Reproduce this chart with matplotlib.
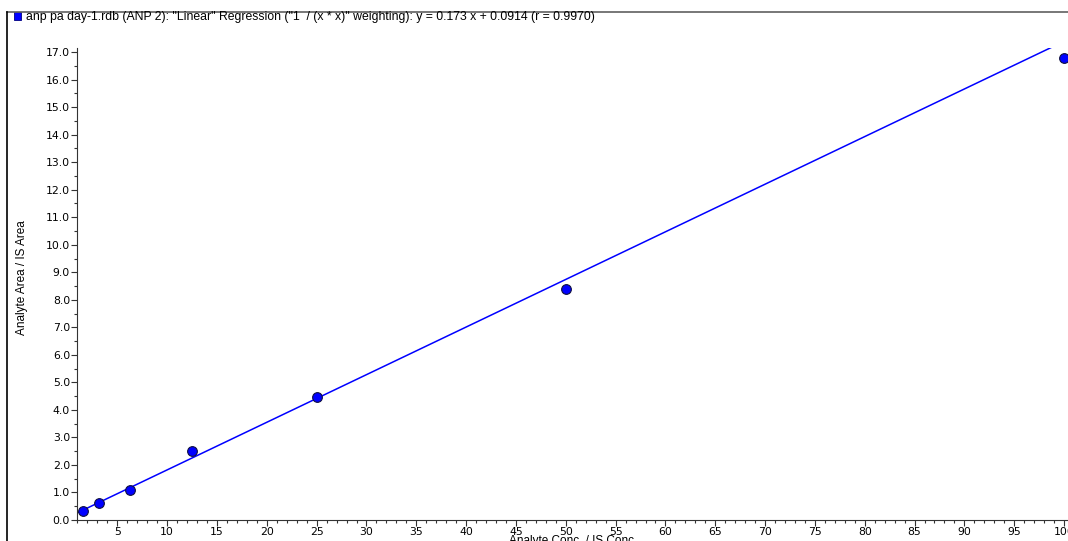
import numpy as np
import matplotlib.pyplot as plt
from matplotlib.lines import Line2D
from matplotlib.patches import Rectangle
from matplotlib.ticker import MultipleLocator, FormatStrFormatter

plt.rcParams['font.family'] = ['Liberation Sans', 'DejaVu Sans']

# calibration standards: analyte/IS concentration ratio vs area ratio
conc = [1.5625, 3.125, 6.25, 12.5, 25, 50, 100]
area_ratio = [0.33, 0.62, 1.09, 2.51, 4.47, 8.39, 16.78]

slope = 0.173
intercept = 0.0914
r_value = 0.9970

W, H = 1068, 541
fig = plt.figure(figsize=(W / 100, H / 100), dpi=100)

# plot area in pixel terms
x0, x1 = 77, 1075
y0, y1 = 520, 48
ax = fig.add_axes([x0 / W, (H - y0) / H, (x1 - x0) / W, (y0 - y1) / H])

fit_x = np.array([0, 105])
ax.plot(fit_x, slope * fit_x + intercept, color='#0000ff', lw=1.1, zorder=2)
ax.plot(conc, area_ratio, 'o', ms=7, mfc='#0000ff', mec='#101040', mew=0.8,
        clip_on=False, zorder=3)

ax.set_xlim(0.95, 101.1)
ax.set_ylim(0, 17.15)

ax.xaxis.set_major_locator(MultipleLocator(5))
ax.xaxis.set_minor_locator(MultipleLocator(1))
ax.yaxis.set_major_locator(MultipleLocator(1))
ax.yaxis.set_minor_locator(MultipleLocator(0.5))
ax.yaxis.set_major_formatter(FormatStrFormatter('%.1f'))

ax.spines['top'].set_visible(False)
ax.spines['right'].set_visible(False)
for s in ('left', 'bottom'):
    ax.spines[s].set_linewidth(0.8)
    ax.spines[s].set_color('#333333')

ax.tick_params(which='major', length=4, width=0.8, labelsize=7.8, pad=1,
               color='#333333')
ax.tick_params(which='minor', length=2, width=0.8, color='#333333')
for lbl in ax.get_xticklabels() + ax.get_yticklabels():
    lbl.set_family('DejaVu Sans')

ax.set_xlabel('Analyte Conc. / IS Conc.', fontsize=8.5)
ax.set_ylabel('Analyte Area / IS Area', fontsize=8.5)
ax.yaxis.set_label_coords(28 / W, (H - 278) / H, transform=fig.transFigure)
ax.xaxis.set_label_coords(573 / W, (H - 535) / H, transform=fig.transFigure)

# panel frame and legend header
fig.add_artist(Line2D([7 / W, 1], [(H - 12) / H] * 2, color='#606060', lw=1.2))
fig.add_artist(Line2D([7 / W] * 2, [0, (H - 12) / H], color='black', lw=1.2))
fig.add_artist(Rectangle((14 / W, (H - 20) / H), 7 / W, 8 / H,
                         facecolor='#0000ff', edgecolor='#000080', lw=0.6))
fig.text(26 / W, (H - 17) / H,
         'anp pa day-1.rdb (ANP 2): "Linear" Regression ("1  / (x * x)" weighting): '
         f'y = {slope} x + {intercept} (r = {r_value:.4f})',
         fontsize=8.8, va='center', ha='left')

fig.savefig('out.png', dpi=100)
